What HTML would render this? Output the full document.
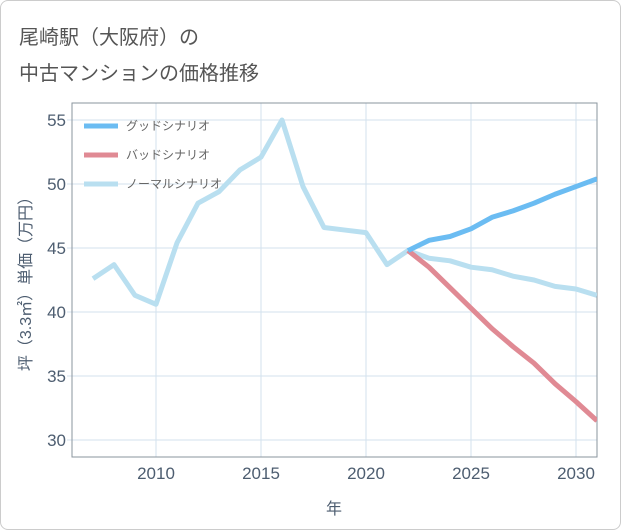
<!DOCTYPE html>
<html><head><meta charset="utf-8">
<style>
body{margin:0;background:#fff;}
#wrap{position:relative;width:619px;height:528px;border:1px solid #ccc;border-radius:8px;background:#fff;overflow:hidden;font-family:"Liberation Sans","Noto Sans CJK JP",sans-serif;}
.title{position:absolute;left:18px;font-size:20px;color:#555;}
</style></head><body>
<div id="wrap">
<div class="title" style="top:20px">尾崎駅（大阪府）の</div>
<div class="title" style="top:56px">中古マンションの価格推移</div>
<svg id="chart" width="621" height="530" style="position:absolute;left:-1px;top:-1px"></svg>
</div>
<script>
const years=[2007,2008,2009,2010,2011,2012,2013,2014,2015,2016,2017,2018,2019,2020,2021,2022,2023,2024,2025,2026,2027,2028,2029,2030,2031];
const normal=[42.6,43.7,41.3,40.6,45.4,48.5,49.4,51.1,52.1,55.0,49.8,46.6,46.4,46.2,43.7,44.8,44.2,44.0,43.5,43.3,42.8,42.5,42.0,41.8,41.3];
const goodYears=[2022,2023,2024,2025,2026,2027,2028,2029,2030,2031];
const good=[44.8,45.6,45.9,46.5,47.4,47.9,48.5,49.2,49.8,50.4];
const bad=[44.8,43.5,41.9,40.3,38.7,37.3,36.0,34.4,33.0,31.5];
const xTicks=[2010,2015,2020,2025,2030];
const yTicks=[30,35,40,45,50,55];
const legendLabels=["グッドシナリオ","バッドシナリオ","ノーマルシナリオ"];
const colors=["#6bbcf2","#e08a94","#b9dff0"];
const L=72,R=597,T=103,B=457;
const x=v=>156+(v-2010)*21;
const y=v=>440-(v-30)*12.8;
const svg=document.getElementById('chart');
const NS='http://www.w3.org/2000/svg';
function el(t,a,p){const e=document.createElementNS(NS,t);for(const k in a)e.setAttribute(k,a[k]);(p||svg).appendChild(e);return e;}
xTicks.forEach(t=>{
 const g=el('line',{x1:x(t),x2:x(t),y1:T,y2:B,stroke:'#d3e2ee'});
 
 
 const tx=el('text',{x:x(t),y:479,'text-anchor':'middle','font-size':17,fill:'#4d5d70'});
 tx.textContent=t;
 
 
});
yTicks.forEach(t=>{
 const g=el('line',{x1:L-5,x2:R,y1:y(t),y2:y(t),stroke:'#d3e2ee'});
 
 
 const tx=el('text',{x:66,y:y(t)+6,'text-anchor':'end','font-size':17,fill:'#4d5d70'});
 tx.textContent=t;
 
 
});
const frame=el('rect',{x:L,y:T,width:R-L,height:B-T,fill:'none',stroke:'#8a949e','stroke-width':1});


const xt=el('text',{x:334,y:514,'text-anchor':'middle','font-size':16,fill:'#4d5d70'});
xt.textContent='年';


const yt=el('text',{x:0,y:0,'text-anchor':'middle','font-size':16,fill:'#4d5d70',transform:'translate(31,280) rotate(-90)'});
yt.textContent='坪（3.3㎡）単価（万円）';


const clip=el('clipPath',{id:'c'});el('rect',{x:L,y:T,width:R-L,height:B-T},clip);
function line(xs,vs,c,n){
 const p=el('polyline',{points:xs.map((v,i)=>x(v)+','+y(vs[i])).join(' '),fill:'none',stroke:c,'stroke-width':5,'stroke-linejoin':'round','clip-path':'url(#c)'});
 
 
}
line(years,normal,colors[2],'normal-scenario-line');
line(goodYears,bad,colors[1],'bad-scenario-line');
line(goodYears,good,colors[0],'good-scenario-line');
legendLabels.forEach((lb,i)=>{
 const yy=126+i*29;
 const l=el('line',{x1:84,x2:118,y1:yy,y2:yy,stroke:colors[i],'stroke-width':5});
 
 
 const t=el('text',{x:126,y:yy+4,'font-size':12,fill:'#666'});
 t.textContent=lb;
 
 
});
</script>
</body></html>
